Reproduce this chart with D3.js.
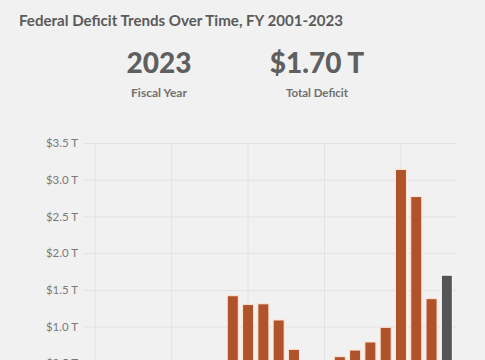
<!DOCTYPE html>
<html>
<head>
<meta charset="utf-8">
<script src="https://cdn.jsdelivr.net/npm/d3@7"></script>
<style>
  body { margin: 0; background: #f1f1f1; overflow: hidden; }
  svg { display: block; font-family: Lato, "Open Sans", sans-serif; }
</style>
</head>
<body>
<svg id="chart" width="485" height="360"></svg>
<script>
// deficit in trillions of dollars, FY 2001-2023
const years = [2001, 2002, 2003, 2004, 2005, 2006, 2007, 2008, 2009, 2010, 2011, 2012,
               2013, 2014, 2015, 2016, 2017, 2018, 2019, 2020, 2021, 2022, 2023];
const deficits = [-0.13, 0.16, 0.38, 0.41, 0.32, 0.25, 0.16, 0.46, 1.42, 1.30, 1.31, 1.09,
                  0.69, 0.49, 0.44, 0.59, 0.68, 0.79, 0.99, 3.14, 2.77, 1.38, 1.70];
const yTicks = [0.5, 1.0, 1.5, 2.0, 2.5, 3.0, 3.5];
const selectedYear = 2023;

const data = years.map((y, i) => ({ year: y, value: deficits[i] }));
const selected = data.find(d => d.year === selectedYear);

let chart = d3.select("#chart");

// title
chart.append("text")
    .text("Federal Deficit Trends Over Time, FY 2001-2023")
    .attr("x", 19)
    .attr("y", 26)
    .attr("font-size", 15.1)
    .attr("font-weight", 700)
    .attr("fill", "#5a5a5a");

// big numbers
function stat(cx, big, small, smallSize) {
    chart.append("text")
        .text(big)
        .attr("x", cx).attr("y", 73)
        .attr("text-anchor", "middle")
        .attr("font-size", 28)
        .attr("font-weight", 900)
        .attr("fill", "#5f5f5f");
    chart.append("text")
        .text(small)
        .attr("x", cx).attr("y", 97)
        .attr("text-anchor", "middle")
        .attr("font-size", smallSize)
        .attr("font-weight", 700)
        .attr("fill", "#707070");
}
stat(159, String(selected.year), "Fiscal Year", 12);
stat(317, "$" + selected.value.toFixed(2) + " T", "Total Deficit", 11.5);

// scales
let x = d3.scaleLinear()
    .domain([1999.4, 2023.6])
    .range([86, 456]);

let y = d3.scaleLinear()
    .domain([0, 3.5])
    .range([400, 143]);

// horizontal grid + labels
let yAxis = d3.axisLeft(y)
    .tickValues(yTicks)
    .tickSize(-(456 - 83))
    .tickPadding(5)
    .tickFormat(d => "$" + d.toFixed(1) + " T");
let yAxisGroup = chart.append("g")
    .attr("transform", "translate(83,0)")
    .call(yAxis);
yAxisGroup.select(".domain").remove();
yAxisGroup.selectAll("line").attr("stroke", "#e2e2e2");
yAxisGroup.selectAll("text")
    .attr("fill", "#7a7a7a")
    .attr("font-size", 11.5)
    .attr("font-family", "Lato, sans-serif");

// vertical grid
chart.append("g")
    .selectAll("line")
    .data(x.ticks(5)).enter()
    .append("line")
        .attr("x1", d => x(d)).attr("x2", d => x(d))
        .attr("y1", y(3.5)).attr("y2", y(0))
        .attr("stroke", "#e2e2e2");

// bars
const barW = 11;
chart.append("g")
    .selectAll("rect")
    .data(data).enter()
    .append("rect")
        .attr("x", d => x(d.year) - barW / 2)
        .attr("width", barW)
        .attr("y", d => y(Math.max(0, d.value)))
        .attr("height", d => Math.abs(y(d.value) - y(0)))
        .attr("fill", d => d.year === selectedYear ? "#555555" : "#b0532a")
        .attr("stroke", d => d.year === selectedYear ? "#ffffff" : "#ffe6d6")
        .attr("stroke-width", 1);
</script>
</body>
</html>
